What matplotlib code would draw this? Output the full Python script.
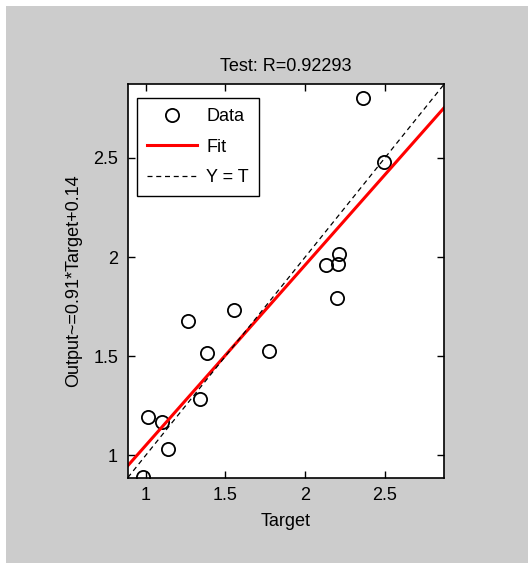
import numpy as np
import matplotlib
matplotlib.use('Agg')
import matplotlib.pyplot as plt
from matplotlib.patches import Rectangle

plt.rcParams['font.family'] = ['Liberation Sans Narrow', 'Liberation Sans', 'DejaVu Sans']

# test set: targets vs network outputs
target = [0.985, 1.016, 1.10, 1.141, 1.344, 1.266, 1.385, 1.556, 1.773,
          2.131, 2.204, 2.21, 2.198, 2.36, 2.496]
output = [0.892, 1.194, 1.170, 1.035, 1.283, 1.676, 1.516, 1.733, 1.524,
          1.962, 1.966, 2.013, 1.794, 2.801, 2.480]
fit_slope = 0.91
fit_offset = 0.14
r_value = 0.92293
lims = [0.888, 2.872]
ticks = [1, 1.5, 2, 2.5]
tick_labels = ['1', '1.5', '2', '2.5']

fig = plt.figure(figsize=(5.28, 5.63), dpi=100)
fig.patch.set_facecolor('white')
fig.patches.append(Rectangle((6/528, 0), 1 - 6/528, 557/563, transform=fig.transFigure,
                             facecolor='#cccccc', edgecolor='none', zorder=-1))

ax = fig.add_axes([0.2419, 0.1515, 0.5996, 0.6993])
ax.set_facecolor('white')

xx = np.array(lims)
ax.plot(target, output, 'o', mfc='none', mec='black', ms=9.5, mew=1.3, label='Data')
ax.plot(xx, fit_slope * xx + fit_offset, color='red', lw=2.2, label='Fit')
ax.plot(xx, xx, '--', color='black', lw=0.9, dashes=(4, 3), label='Y = T')

ax.set_xlim(lims)
ax.set_ylim(lims)
ax.set_xticks(ticks)
ax.set_xticklabels(tick_labels)
ax.set_yticks(ticks)
ax.set_yticklabels(tick_labels)
ax.tick_params(direction='in', length=5, width=1, top=True, right=True,
               labelsize=13, pad=7)
for s in ax.spines.values():
    s.set_linewidth(1.2)

ax.set_title('Test: R=%.5f' % r_value, fontsize=13, pad=9)
ax.set_xlabel('Target', fontsize=13, labelpad=6)
ax.set_ylabel('Output~=%.2g*Target+%.2g' % (fit_slope, fit_offset), fontsize=13, labelpad=8)

leg = ax.legend(loc='upper left', bbox_to_anchor=(0.028, 0.964), borderaxespad=0,
                fontsize=13, fancybox=False, framealpha=1, edgecolor='black',
                handlelength=2.8, labelspacing=0.75, borderpad=0.55, handletextpad=0.5)
leg.get_frame().set_linewidth(1.0)

plt.savefig('out.png', dpi=100, facecolor=fig.get_facecolor())
